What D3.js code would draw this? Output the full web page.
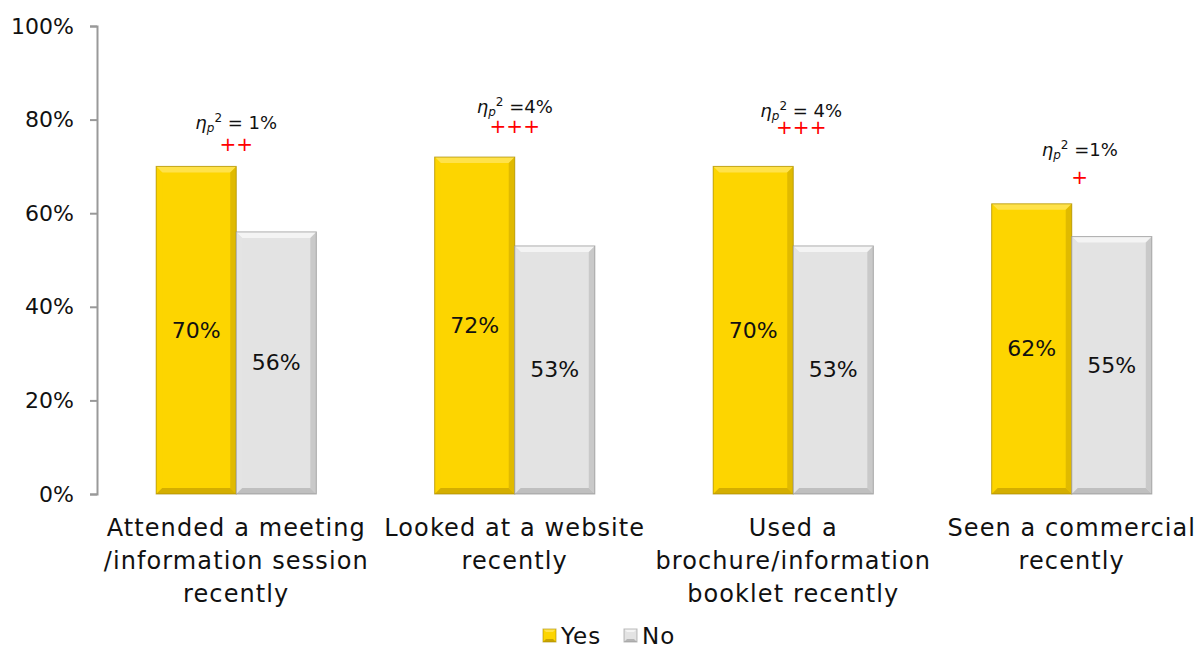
<!DOCTYPE html>
<html>
<head>
<meta charset="utf-8">
<script src="https://cdn.jsdelivr.net/npm/d3@7"></script>
<style>
  html, body { margin: 0; padding: 0; background: #fff; }
  svg text { font-family: "Century Gothic", "URW Gothic", "DejaVu Sans", sans-serif; fill: #111; }
</style>
</head>
<body>
<svg id="chart" width="1199" height="650"></svg>
<script>
// Share of respondents, by information source used recently
const categories = [
  ["Attended a meeting", "/information session", "recently"],
  ["Looked at a website", "recently"],
  ["Used a", "brochure/information", "booklet recently"],
  ["Seen a commercial", "recently"]
];
const seriesNames = ["Yes", "No"];
const yesValues = [70, 72, 70, 62];
const noValues = [56, 53, 53, 55];
const etaValues = ["= 1%", "=4%", "= 4%", "=1%"];
const significance = ["++", "+++", "+++", "+"];
const yTicks = [0, 20, 40, 60, 80, 100];

const svg = d3.select("#chart");
const margin = { left: 97, right: -12, top: 26, bottom: 156 };
const W = 1199, H = 650;

const x = d3.scaleBand()
  .domain(d3.range(categories.length))
  .range([margin.left, W - margin.right])
  .paddingInner(0.425)
  .paddingOuter(0.2125);
const sub = d3.scaleBand().domain(seriesNames).range([0, x.bandwidth()]);
const y = d3.scaleLinear().domain([0, 100]).range([H - margin.bottom, margin.top]);

const colors = {
  Yes: { base: "#fdd500", light: "#ffe24a", dark: "#c9a400", edge: "#a88a00" },
  No:  { base: "#e3e3e3", light: "#f4f4f4", dark: "#b5b5b5", edge: "#8f8f8f" }
};

// Axis
const yAxis = d3.axisLeft(y).tickValues(yTicks).tickFormat(d => d + "%").tickSize(7).tickPadding(16);
const ag = svg.append("g").attr("transform", `translate(${margin.left},0)`).call(yAxis);
ag.select(".domain").attr("stroke", "#999").attr("stroke-width", 2);
ag.selectAll(".tick line").attr("stroke", "#999").attr("stroke-width", 2);
ag.selectAll(".tick text").style("font-size", "22px").attr("fill", "#111");

// Bars with a bevelled look
const rows = categories.map((c, i) => ({ i, Yes: yesValues[i], No: noValues[i] }));
const bev = 6;

function bevelBar(g, x0, y0, w, h, c) {
  g.append("rect").attr("x", x0).attr("y", y0).attr("width", w).attr("height", h).attr("fill", c.base);
  // top
  g.append("polygon").attr("points", [[x0, y0], [x0 + w, y0], [x0 + w - bev, y0 + bev], [x0 + bev, y0 + bev]].join(" "))
    .attr("fill", c.light);
  // left
  g.append("polygon").attr("points", [[x0, y0], [x0 + bev, y0 + bev], [x0 + bev, y0 + h - bev], [x0, y0 + h]].join(" "))
    .attr("fill", c.base).attr("opacity", 0.9);
  // right
  g.append("polygon").attr("points", [[x0 + w, y0], [x0 + w, y0 + h], [x0 + w - bev, y0 + h - bev], [x0 + w - bev, y0 + bev]].join(" "))
    .attr("fill", c.dark).attr("opacity", 0.55);
  // bottom
  g.append("polygon").attr("points", [[x0, y0 + h], [x0 + w, y0 + h], [x0 + w - bev, y0 + h - bev], [x0 + bev, y0 + h - bev]].join(" "))
    .attr("fill", c.dark).attr("opacity", 0.8);
  g.append("rect").attr("x", x0).attr("y", y0).attr("width", w).attr("height", h)
    .attr("fill", "none").attr("stroke", c.edge).attr("stroke-width", 1).attr("opacity", 0.7);
}

const groups = svg.append("g").selectAll("g").data(rows).join("g")
  .attr("transform", d => `translate(${x(d.i)},0)`);

groups.each(function(d) {
  const g = d3.select(this);
  seriesNames.forEach(s => {
    const bx = sub(s), bw = sub.bandwidth();
    const top = y(d[s]), h = y(0) - top;
    bevelBar(g, bx, top, bw, h, colors[s]);
    g.append("text")
      .attr("x", bx + bw / 2).attr("y", top + h / 2)
      .attr("text-anchor", "middle").attr("dominant-baseline", "central")
      .style("font-size", "22px").text(d[s] + "%");
  });
});

// Effect size annotations (partial eta squared) with significance marks
const etaY = [123, 107, 111, 150];
const plusY = [144, 126, 127, 177];
const etaShift = [0, 0, 8, 8];
rows.forEach((d, i) => {
  const cx = x(i) + x.bandwidth() / 2 + etaShift[i];
  const t = svg.append("text").attr("x", cx).attr("y", etaY[i] + 6)
    .attr("text-anchor", "middle").style("font-size", "18px");
  t.append("tspan").style("font-style", "italic").text("η");
  t.append("tspan").style("font-style", "italic").style("font-size", "12px").attr("dy", 3).text("p");
  t.append("tspan").style("font-size", "12px").attr("dy", -10).text("2");
  t.append("tspan").attr("dy", 7).text(" " + etaValues[i]);
  svg.append("text").attr("x", cx).attr("y", plusY[i] + 7)
    .attr("text-anchor", "middle").style("font-size", "20px")
    .style("fill", "#ff0000").text(significance[i]);
});

// Category labels
rows.forEach((d, i) => {
  const t = svg.append("text").attr("text-anchor", "middle")
    .style("font-size", "24px").style("letter-spacing", "1.1px");
  categories[i].forEach((line, k) => {
    t.append("tspan").attr("x", x(i) + x.bandwidth() / 2).attr("y", 536 + k * 33).text(line);
  });
});

// Legend
const lg = svg.append("g").attr("transform", "translate(543,629)");
seriesNames.forEach((s, k) => {
  const ox = k * 81;
  bevelLegend(lg, ox, 0, colors[s]);
  lg.append("text").attr("x", ox + 18).attr("y", 7).attr("dominant-baseline", "central")
    .style("font-size", "23px").style("letter-spacing", "1px").text(s);
});
function bevelLegend(g, x0, y0, c) {
  const b = 3, s = 13;
  g.append("rect").attr("x", x0).attr("y", y0).attr("width", s).attr("height", s).attr("fill", c.base);
  g.append("polygon").attr("points", [[x0, y0], [x0 + s, y0], [x0 + s - b, y0 + b], [x0 + b, y0 + b]].join(" ")).attr("fill", c.light);
  g.append("polygon").attr("points", [[x0, y0 + s], [x0 + s, y0 + s], [x0 + s - b, y0 + s - b], [x0 + b, y0 + s - b]].join(" ")).attr("fill", c.dark);
  g.append("rect").attr("x", x0).attr("y", y0).attr("width", s).attr("height", s).attr("fill", "none").attr("stroke", c.edge).attr("opacity", 0.6);
}
</script>
</body>
</html>
